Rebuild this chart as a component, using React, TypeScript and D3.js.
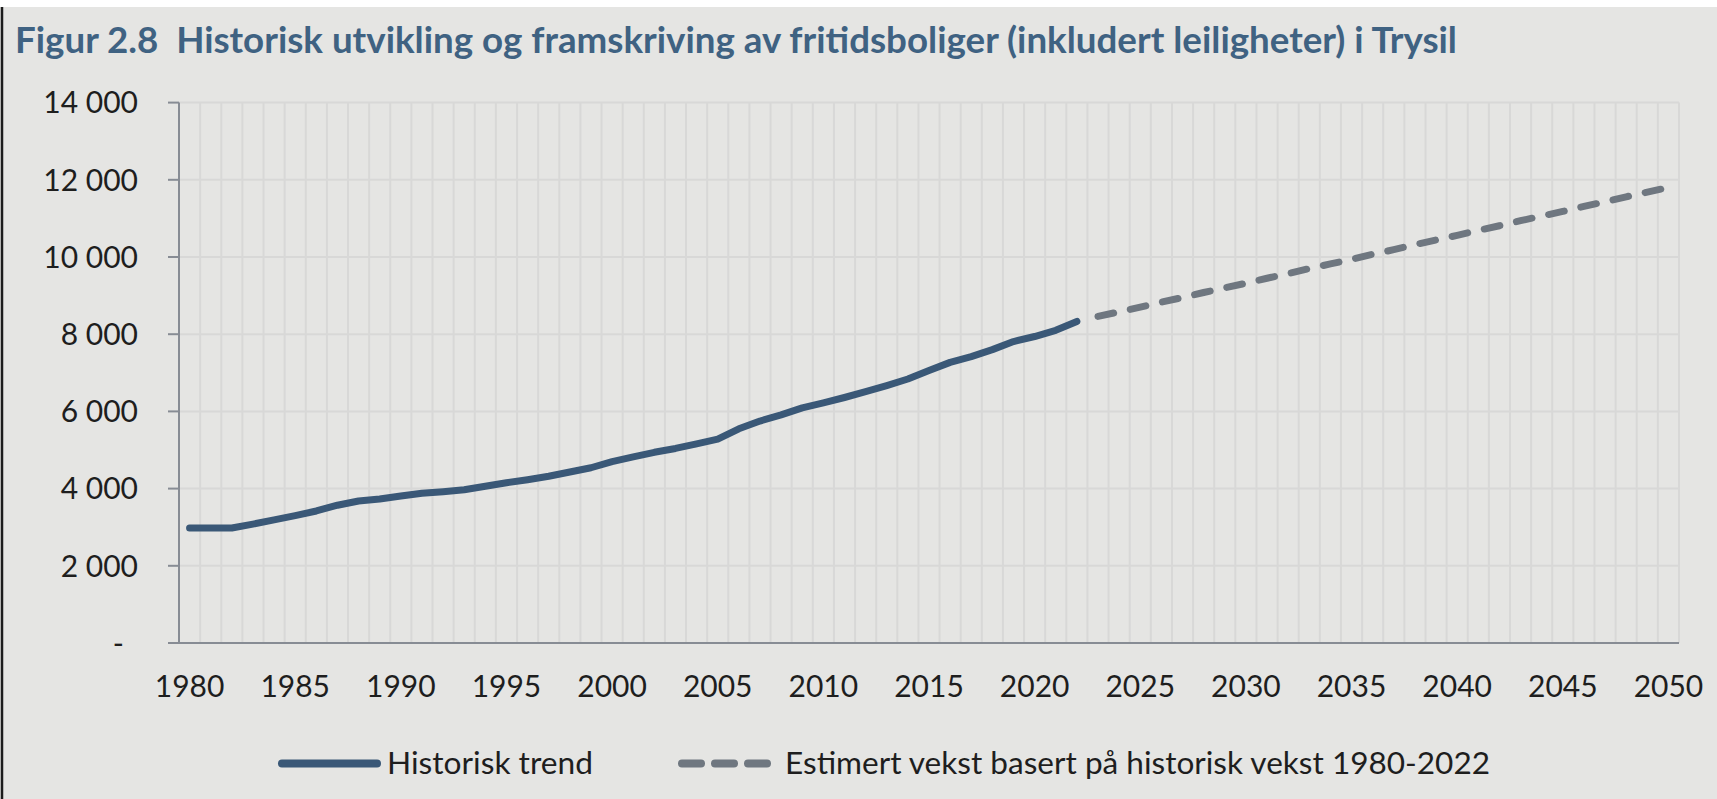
import React, { useEffect, useRef } from 'react';
import * as d3 from 'd3';

// years on the category axis
const years: number[] = d3.range(1980, 2051);

// historical series 1980-2022
const histYears: number[] = d3.range(1980, 2023);
const histValues: number[] = [
  2980, 2980, 2980, 3080, 3190, 3300, 3420, 3570, 3680, 3730,
  3810, 3880, 3920, 3970, 4060, 4150, 4230, 4320, 4430, 4540,
  4700, 4820, 4940, 5040, 5160, 5280, 5550, 5750, 5910, 6090,
  6220, 6360, 6510, 6670, 6840, 7060, 7270, 7420, 7600, 7810,
  7940, 8100, 8330,
];

// estimated series 2023-2050
const estYears: number[] = d3.range(2023, 2051);
const estValues: number[] = [
  8460, 8580, 8700, 8830, 8950, 9080, 9200, 9320, 9450, 9570,
  9700, 9820, 9940, 10070, 10190, 10320, 10440, 10560, 10690, 10810,
  10940, 11060, 11180, 11310, 11430, 11560, 11680, 11800,
];

const yTicks: number[] = [0, 2000, 4000, 6000, 8000, 10000, 12000, 14000];
const xTickYears: number[] = [1980, 1985, 1990, 1995, 2000, 2005, 2010, 2015, 2020, 2025, 2030, 2035, 2040, 2045, 2050];

const title = 'Figur 2.8  Historisk utvikling og framskriving av fritidsboliger (inkludert leiligheter) i Trysil';
const seriesNames: string[] = ['Historisk trend', 'Estimert vekst basert på historisk vekst 1980-2022'];

const App = () => {
  const svgRef = useRef<SVGSVGElement>(null);

  useEffect(() => {
    const W = 1717;
    const H = 799;
    // plot area inside the window
    const plot = { left: 179, right: 1679, top: 102.6, bottom: 643 };
    const font = 'Lato, "Open Sans", sans-serif';

    const svg = d3.select(svgRef.current).attr('width', W).attr('height', H);
    svg.selectAll('*').remove();

    // background
    svg.append('rect').attr('width', W).attr('height', H).attr('fill', '#ffffff');
    svg.append('rect').attr('x', 0).attr('y', 7).attr('width', W).attr('height', H - 7).attr('fill', '#e5e5e3');
    svg.append('line')
      .attr('x1', 2).attr('x2', 2).attr('y1', 7).attr('y2', H)
      .attr('stroke', '#1c1c1c').attr('stroke-width', 2.5);

    // title
    svg.append('text')
      .attr('x', 15).attr('y', 53)
      .attr('font-family', font).attr('font-weight', 700).attr('font-size', 37)
      .attr('fill', '#3f6282')
      .attr('textLength', 1442).attr('lengthAdjust', 'spacingAndGlyphs')
      .style('white-space', 'pre')
      .text(title);

    const xScale = d3.scaleBand<number>().domain(years).range([plot.left, plot.right]);
    const bw = xScale.bandwidth();
    const cx = (yr: number) => (xScale(yr) as number) + bw / 2;

    const yScale = d3.scaleLinear().domain([0, 14000]).range([plot.bottom, plot.top]);

    // vertical gridlines at category boundaries
    svg.append('g')
      .selectAll('line')
      .data(years)
      .enter()
      .append('line')
      .attr('x1', (d) => (xScale(d) as number) + bw)
      .attr('x2', (d) => (xScale(d) as number) + bw)
      .attr('y1', plot.top)
      .attr('y2', plot.bottom)
      .attr('stroke', '#d8d8d7')
      .attr('stroke-width', 2);

    // horizontal gridlines
    svg.append('g')
      .selectAll('line')
      .data(yTicks.filter((d) => d > 0))
      .enter()
      .append('line')
      .attr('x1', plot.left)
      .attr('x2', plot.right)
      .attr('y1', (d) => yScale(d))
      .attr('y2', (d) => yScale(d))
      .attr('stroke', '#d8d8d7')
      .attr('stroke-width', 2);

    // axes
    svg.append('line')
      .attr('x1', plot.left).attr('x2', plot.left)
      .attr('y1', plot.top).attr('y2', plot.bottom)
      .attr('stroke', '#878c94').attr('stroke-width', 2);
    svg.append('line')
      .attr('x1', plot.left - 11).attr('x2', plot.right)
      .attr('y1', plot.bottom).attr('y2', plot.bottom)
      .attr('stroke', '#878c94').attr('stroke-width', 2);
    svg.append('g')
      .selectAll('line')
      .data(yTicks)
      .enter()
      .append('line')
      .attr('x1', plot.left - 11)
      .attr('x2', plot.left)
      .attr('y1', (d) => yScale(d))
      .attr('y2', (d) => yScale(d))
      .attr('stroke', '#878c94')
      .attr('stroke-width', 2);

    // y labels
    const fmt = (d: number) => (d === 0 ? '-' : d3.format(',')(d).replace(/,/g, '\u2009'.replace('\u2009', ' ')));
    svg.append('g')
      .selectAll('text')
      .data(yTicks)
      .enter()
      .append('text')
      .attr('x', (d) => (d === 0 ? 124 : 138))
      .attr('y', (d) => yScale(d))
      .attr('dy', '0.36em')
      .attr('text-anchor', 'end')
      .attr('font-family', font)
      .attr('font-size', 30)
      .attr('fill', '#1e1e1e')
      .style('white-space', 'pre')
      .text(fmt);

    // x labels
    svg.append('g')
      .selectAll('text')
      .data(xTickYears)
      .enter()
      .append('text')
      .attr('x', (d) => cx(d))
      .attr('y', 697)
      .attr('text-anchor', 'middle')
      .attr('font-family', font)
      .attr('font-size', 30)
      .attr('fill', '#1e1e1e')
      .text((d) => d);

    const line = d3.line<[number, number]>()
      .x((d) => cx(d[0]))
      .y((d) => yScale(d[1]));

    // estimated (dashed)
    svg.append('path')
      .datum(estYears.map((yr, i) => [yr, estValues[i]] as [number, number]))
      .attr('d', line)
      .attr('fill', 'none')
      .attr('stroke', '#6f7780')
      .attr('stroke-width', 7)
      .attr('stroke-linecap', 'round')
      .attr('stroke-dasharray', '16 17');

    // historical (solid)
    svg.append('path')
      .datum(histYears.map((yr, i) => [yr, histValues[i]] as [number, number]))
      .attr('d', line)
      .attr('fill', 'none')
      .attr('stroke', '#3a5877')
      .attr('stroke-width', 7)
      .attr('stroke-linecap', 'round')
      .attr('stroke-linejoin', 'round');

    // legend
    const ly = 763.5;
    svg.append('line')
      .attr('x1', 282).attr('x2', 377).attr('y1', ly).attr('y2', ly)
      .attr('stroke', '#3a5877').attr('stroke-width', 8).attr('stroke-linecap', 'round');
    svg.append('text')
      .attr('x', 387).attr('y', ly).attr('dy', '0.36em')
      .attr('font-family', font).attr('font-size', 30).attr('fill', '#1e1e1e')
      .attr('textLength', 206).attr('lengthAdjust', 'spacingAndGlyphs')
      .text(seriesNames[0]);
    svg.append('line')
      .attr('x1', 682).attr('x2', 768).attr('y1', ly).attr('y2', ly)
      .attr('stroke', '#6f7780').attr('stroke-width', 8).attr('stroke-linecap', 'round')
      .attr('stroke-dasharray', '19 14');
    svg.append('text')
      .attr('x', 785).attr('y', ly).attr('dy', '0.36em')
      .attr('font-family', font).attr('font-size', 30).attr('fill', '#1e1e1e')
      .attr('textLength', 705).attr('lengthAdjust', 'spacingAndGlyphs')
      .text(seriesNames[1]);
  }, []);

  return (
    <svg
      ref={svgRef}
      style={{ position: 'absolute', left: 0, top: 0, display: 'block' }}
    />
  );
};

export default App;
